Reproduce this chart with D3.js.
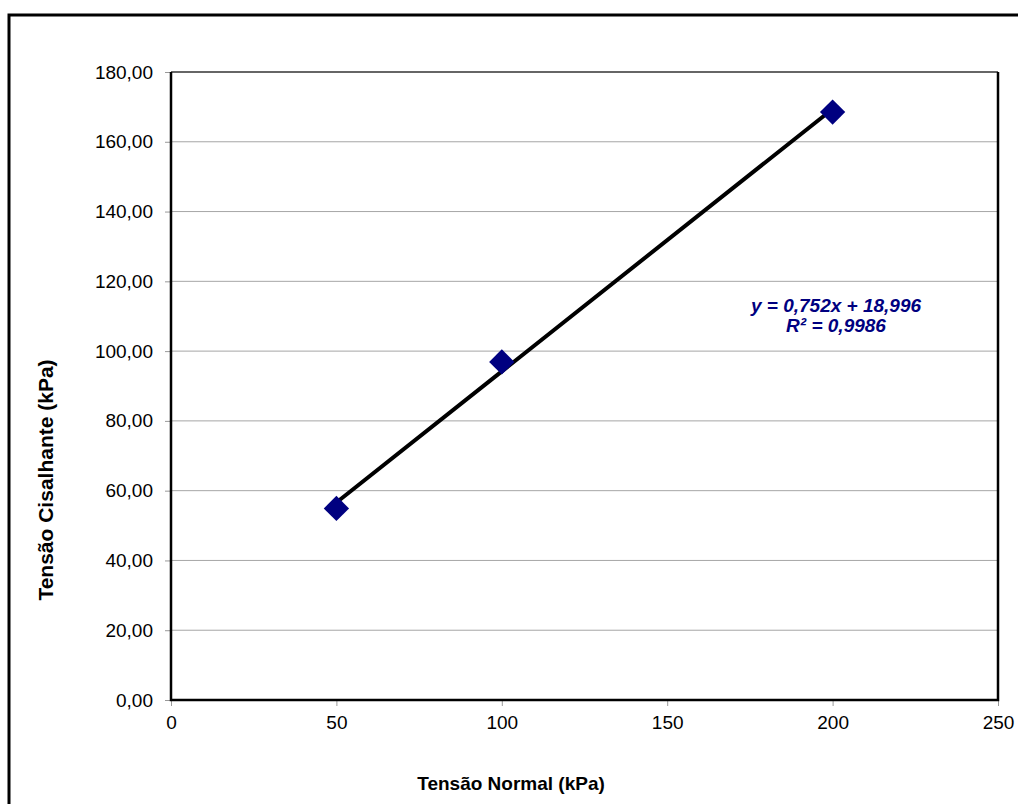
<!DOCTYPE html>
<html>
<head>
<meta charset="utf-8">
<script src="https://cdn.jsdelivr.net/npm/d3@7"></script>
<style>
  html, body { margin: 0; padding: 0; background: #fff; }
  svg { display: block; font-family: Arial, "Liberation Sans", sans-serif; }
</style>
</head>
<body>
<svg id="chart" width="1018" height="804"></svg>
<script>
// Direct shear test: normal stress vs. shear stress
const normalStress = [50, 100, 200];          // kPa
const shearStress  = [54.9, 96.9, 168.5];     // kPa
const fitSlope = 0.752;
const fitIntercept = 18.996;
const fitR2 = 0.9986;
const xTicks = [0, 50, 100, 150, 200, 250];
const yTicks = [0, 20, 40, 60, 80, 100, 120, 140, 160, 180];
const xTitle = "Tensão Normal (kPa)";
const yTitle = "Tensão Cisalhante (kPa)";

const fmtY = d => d3.format(".2f")(d).replace(".", ",");
const fmtNum = (v, n) => v.toFixed(n).replace(".", ",");

const svg = d3.select("#chart");
const plot = { left: 171, top: 72, right: 998, bottom: 700 };

const x = d3.scaleLinear().domain([0, 250]).range([plot.left, plot.right]);
const y = d3.scaleLinear().domain([0, 180]).range([plot.bottom, plot.top]);

// outer chart frame
svg.append("rect")
  .attr("x", 9).attr("y", 15)
  .attr("width", 1040).attr("height", 840)
  .attr("fill", "none").attr("stroke", "#000").attr("stroke-width", 3);

// horizontal gridlines
svg.append("g")
  .selectAll("line").data(yTicks.filter(d => d > 0 && d < 180)).join("line")
  .attr("x1", plot.left).attr("x2", plot.right)
  .attr("y1", d => y(d)).attr("y2", d => y(d))
  .attr("stroke", "#a6a6a6").attr("stroke-width", 1);

// y axis
const yAxis = svg.append("g")
  .attr("transform", `translate(${plot.left},0)`)
  .call(d3.axisLeft(y).tickValues(yTicks).tickFormat(fmtY).tickSize(6).tickPadding(12));
yAxis.select(".domain").remove();
yAxis.selectAll(".tick line").attr("stroke", "#999");
yAxis.selectAll(".tick text")
  .attr("font-size", 19).attr("font-family", "Arial, 'Liberation Sans', sans-serif")
  .attr("fill", "#000");

// x axis
const xAxis = svg.append("g")
  .attr("transform", `translate(0,${plot.bottom})`)
  .call(d3.axisBottom(x).tickValues(xTicks).tickFormat(d3.format("d")).tickSize(6).tickPadding(10));
xAxis.select(".domain").remove();
xAxis.selectAll(".tick line").attr("stroke", "#999");
xAxis.selectAll(".tick text")
  .attr("font-size", 19).attr("font-family", "Arial, 'Liberation Sans', sans-serif")
  .attr("fill", "#000");

// plot area border
svg.append("line")
  .attr("x1", plot.left).attr("x2", plot.right)
  .attr("y1", plot.top).attr("y2", plot.top)
  .attr("stroke", "#333").attr("stroke-width", 1.5);
svg.append("path")
  .attr("d", `M${plot.left},${plot.top}V${plot.bottom}H${plot.right}V${plot.top}`)
  .attr("fill", "none").attr("stroke", "#000").attr("stroke-width", 2.5);

// linear trend line
const xMin = d3.min(normalStress), xMax = d3.max(normalStress);
svg.append("line")
  .attr("x1", x(xMin)).attr("y1", y(fitSlope * xMin + fitIntercept))
  .attr("x2", x(xMax)).attr("y2", y(fitSlope * xMax + fitIntercept))
  .attr("stroke", "#000").attr("stroke-width", 4).attr("stroke-linecap", "round");

// data markers (diamonds)
const pts = normalStress.map((v, i) => [v, shearStress[i]]);
svg.append("g")
  .selectAll("path").data(pts).join("path")
  .attr("d", d3.symbol(d3.symbolSquare, 320))
  .attr("transform", d => `translate(${x(d[0])},${y(d[1])}) rotate(45)`)
  .attr("fill", "#000080");

// trend line equation
const eq = svg.append("text")
  .attr("font-size", 19).attr("font-weight", "bold").attr("font-style", "italic")
  .attr("fill", "#000080").attr("text-anchor", "middle");
eq.append("tspan").attr("x", 836).attr("y", 312)
  .text(`y = ${fmtNum(fitSlope, 3)}x + ${fmtNum(fitIntercept, 3)}`);
eq.append("tspan").attr("x", 836).attr("y", 332)
  .text(`R² = ${fmtNum(fitR2, 4)}`);

// axis titles
svg.append("text")
  .attr("x", 511).attr("y", 790)
  .attr("text-anchor", "middle").attr("font-size", 19).attr("font-weight", "bold")
  .text(xTitle);
svg.append("text")
  .attr("transform", "translate(53,480) rotate(-90)")
  .attr("text-anchor", "middle").attr("font-size", 21).attr("font-weight", "bold")
  .text(yTitle);
</script>
</body>
</html>
